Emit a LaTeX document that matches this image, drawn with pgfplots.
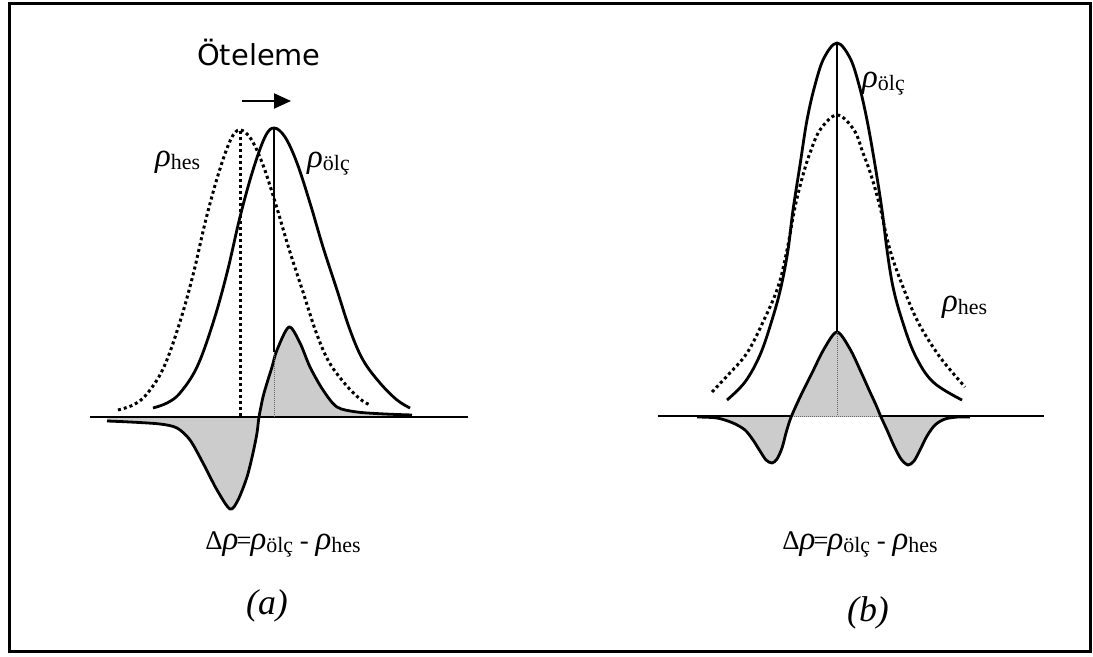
\documentclass[border=0pt]{standalone}
\usepackage{fontspec}
\setmainfont{Liberation Serif}
\newfontfamily\dejavu{DejaVu Sans}
\usepackage{pgfplots}
\pgfplotsset{compat=1.18}
\usepgfplotslibrary{fillbetween}
\usetikzlibrary{arrows.meta}

\newcommand{\rr}{{\fontsize{33}{33}\selectfont\itshape ρ}}
\newcommand{\sbs}[1]{\raisebox{-3bp}{\fontsize{22}{22}\selectfont #1}}
\newcommand{\bg}[1]{{\fontsize{27}{27}\selectfont #1}}

\begin{document}
\begin{tikzpicture}
\begin{axis}[width=1093bp,height=657bp,scale only axis,
  xmin=0,xmax=1093,ymin=0,ymax=657,y dir=reverse,
  axis lines=none,ticks=none,clip=false]
\path (rel axis cs:0,0) rectangle (rel axis cs:1,1);

% ---------- panel (a) ----------
\addplot[name path=da, draw=none, smooth, tension=0.5] coordinates {
(107,421)(130,422)(160,424)(177,428)(190,440)(203,463)(217,490)(230,509)(238,500)(247,477)(253,453)(257,433)(259,417)(263,397)(267,383)(272,367)(277,350)(289,327)(300,343)(310,367)(323,390)(337,407)(357,412)(385,414)(412,415)};
\addplot[name path=ba, draw=none] coordinates {(107,417)(412,417)};
\addplot[black!20] fill between[of=da and ba];
\addplot[black, line width=2.8bp, smooth, tension=0.5] coordinates {
(107,421)(130,422)(160,424)(177,428)(190,440)(203,463)(217,490)(230,509)(238,500)(247,477)(253,453)(257,433)(259,417)(263,397)(267,383)(272,367)(277,350)(289,327)(300,343)(310,367)(323,390)(337,407)(357,412)(385,414)(412,415)};
% baseline
\addplot[black, line width=1.6bp] coordinates {(90,417)(468,417)};
% solid rho_olc
\addplot[black, line width=2.8bp, smooth, tension=0.6] coordinates {
(153,408)(167,403)(180,393)(197,367)(213,323)(227,273)(240,217)(253,170)(265,137)(274,128)(285,137)(297,163)(310,203)(323,247)(337,290)(350,330)(363,360)(380,383)(397,400)(410,408)};
% dotted rho_hes
\addplot[black, line width=3bp, dash pattern=on 3bp off 3bp, smooth, tension=0.6] coordinates {
(118,410)(133,405)(146,395)(163,369)(179,325)(193,275)(206,219)(219,172)(231,139)(240,130)(251,139)(263,165)(276,205)(289,249)(303,292)(316,332)(329,362)(346,385)(360,399)(370,405)};
% vertical lines
\addplot[black, line width=1.4bp] coordinates {(274,128)(274,352)};
\addplot[black!60, line width=0.8bp, dash pattern=on 1bp off 1bp] coordinates {(274,352)(274,417)};
\addplot[black, line width=3bp, dash pattern=on 3bp off 3bp] coordinates {(240,131)(240,417)};

% ---------- panel (b) ----------
\addplot[name path=db, draw=none, smooth, tension=0.5] coordinates {
(697,417)(717,418)(733,423)(745,430)(753,440)(760,451)(766,460)(772,463)(777,459)(782,448)(786,433)(790,420)(795,408)(802,393)(812,373)(824,349)(837,332)(850,349)(861,372)(870,392)(876,405)(881,417)(887,430)(894,446)(901,459)(908,465)(914,461)(920,450)(927,436)(935,425)(945,419)(958,417)(970,417)};
\addplot[name path=bb, draw=none] coordinates {(697,417)(970,417)};
\addplot[black!20] fill between[of=db and bb];
% baseline
\addplot[black, line width=1.6bp] coordinates {(658,416)(792,416)};
\addplot[black, line width=1.6bp] coordinates {(880,416)(1044,416)};
\addplot[black!60, line width=0.8bp, dash pattern=on 1bp off 1bp] coordinates {(792,416)(880,416)};
\addplot[black, line width=2.8bp, smooth, tension=0.5] coordinates {
(697,417)(717,418)(733,423)(745,430)(753,440)(760,451)(766,460)(772,463)(777,459)(782,448)(786,433)(790,420)(795,408)(802,393)(812,373)(824,349)(837,332)(850,349)(861,372)(870,392)(876,405)(881,417)(887,430)(894,446)(901,459)(908,465)(914,461)(920,450)(927,436)(935,425)(945,419)(958,417)(970,417)};
% solid rho_olc
\addplot[black, line width=2.8bp, smooth, tension=0.6] coordinates {
(727,400)(745,382)(760,355)(772,320)(781,287)(788,250)(793,210)(800,165)(807,120)(815,85)(824,58)(837,43)(850,58)(859,85)(867,120)(875,165)(882,210)(887,250)(893,287)(902,320)(915,355)(933,382)(962,400)};
% dotted rho_hes
\addplot[black, line width=3bp, dash pattern=on 3bp off 3bp, smooth, tension=0.6] coordinates {
(712,392)(728,375)(747,353)(763,322)(778,287)(787,250)(795,207)(803,175)(810,153)(820,130)(837,115)(854,130)(863,153)(871,175)(880,207)(890,250)(903,287)(918,322)(937,353)(952,372)(965,387)};
% vertical lines
\addplot[black, line width=1.4bp] coordinates {(837,43)(837,332)};
\addplot[black!60, line width=0.8bp, dash pattern=on 1bp off 1bp] coordinates {(837,332)(837,416)};

% ---------- frame ----------
\draw[line width=3bp] (axis cs:9,4) rectangle (axis cs:1090,652);

% ---------- texts ----------
\node[anchor=base, inner sep=0pt] at (axis cs:259,66) {\dejavu\fontsize{29}{29}\selectfont Öteleme};
\draw[line width=2bp, -{Triangle[length=17bp,width=15bp]}] (axis cs:242,101) -- (axis cs:291,101);

\node[anchor=base west, inner sep=0pt] at (axis cs:155,167) {\rr\sbs{hes}};
\node[anchor=base west, inner sep=0pt] at (axis cs:307,168) {\rr\sbs{ölç}};
\node[anchor=base west, inner sep=0pt] at (axis cs:862,88) {\rr\sbs{ölç}};
\node[anchor=base west, inner sep=0pt] at (axis cs:942,312) {\rr\sbs{hes}};

\node[anchor=base, inner sep=0pt] at (axis cs:283,550) {\bg{Δ}\rr\kern-2bp\bg{=}\kern-1bp\rr\sbs{ölç}\bg{ - }\rr\sbs{hes}};
\node[anchor=base, inner sep=0pt] at (axis cs:860,550) {\bg{Δ}\rr\kern-2bp\bg{=}\kern-1bp\rr\sbs{ölç}\bg{ - }\rr\sbs{hes}};

\node[anchor=base, inner sep=0pt] at (axis cs:267,615) {\fontsize{36}{36}\selectfont\itshape (a)};
\node[anchor=base, inner sep=0pt] at (axis cs:868,622) {\fontsize{36}{36}\selectfont\itshape (b)};
\end{axis}
\end{tikzpicture}
\end{document}
